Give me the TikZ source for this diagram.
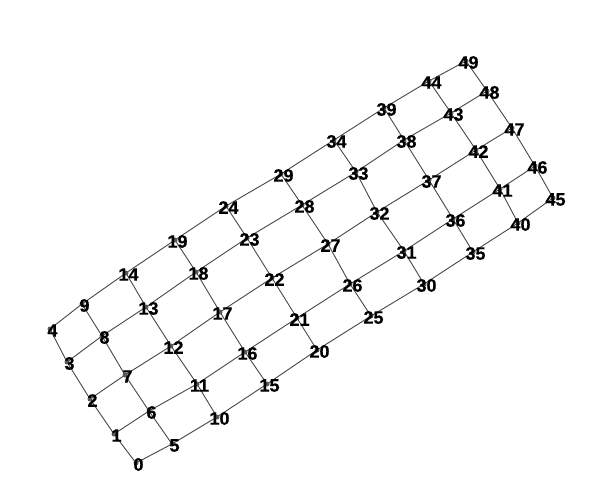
\documentclass[tikz,border=0pt]{standalone}
\usepackage{fontspec}
\setmainfont{Liberation Sans}
\newfontfamily\labfont{Liberation Sans}[UprightFont={* Bold},FakeBold=0.5]
\begin{document}
\begin{tikzpicture}[x=1pt,y=-1pt,
  vdot/.style={circle,fill=black!65,draw=none,inner sep=0pt,minimum size=5pt},
  vlab/.style={font=\labfont\fontsize{18}{18}\selectfont\bfseries,text=black,inner sep=0pt},
  gedge/.style={draw=black!72,line width=0.9pt}]
\useasboundingbox (0,0) rectangle (592,501);
\foreach \i/\x/\y in {
0/136/463, 1/114/434, 2/90/399, 3/67/362, 4/50/329,
5/172/444, 6/149/411, 7/125/375, 8/102/336, 9/82/304,
10/217/417, 11/197/384, 12/171/346, 13/146/307, 14/126/273,
15/267/384, 16/245/352, 17/220/312, 18/196/272, 19/175/240,
20/317/350, 21/297/318, 22/272/278, 23/247/238, 24/226/206,
25/371/316, 26/350/284, 27/328/244, 28/302/205, 29/281/174,
30/424/284, 31/404/251, 32/377/212, 33/356/172, 34/334/140,
35/473/252, 36/453/219, 37/429/180, 38/404/140, 39/384/108,
40/518/223, 41/500/189, 42/476/150, 43/451/113, 44/429/81,
45/553/198, 46/535/166, 47/512/128, 48/487/91, 49/466/61}
  {\coordinate (p\i) at (\x,\y);}
\foreach \c in {0,...,9}{
  \foreach \r in {0,...,3}{
    \pgfmathtruncatemacro{\a}{5*\c+\r}
    \pgfmathtruncatemacro{\b}{5*\c+\r+1}
    \draw[gedge] (p\a) -- (p\b);
  }
}
\foreach \c in {0,...,8}{
  \foreach \r in {0,...,4}{
    \pgfmathtruncatemacro{\a}{5*\c+\r}
    \pgfmathtruncatemacro{\b}{5*\c+\r+5}
    \draw[gedge] (p\a) -- (p\b);
  }
}
\foreach \i in {0,...,49}{
  \node[vdot] (n\i) at (p\i) {};
  \node[vlab,xshift=2.5pt,yshift=-1.5pt] (l\i) at (p\i) {\i};
}
\end{tikzpicture}
\end{document}
